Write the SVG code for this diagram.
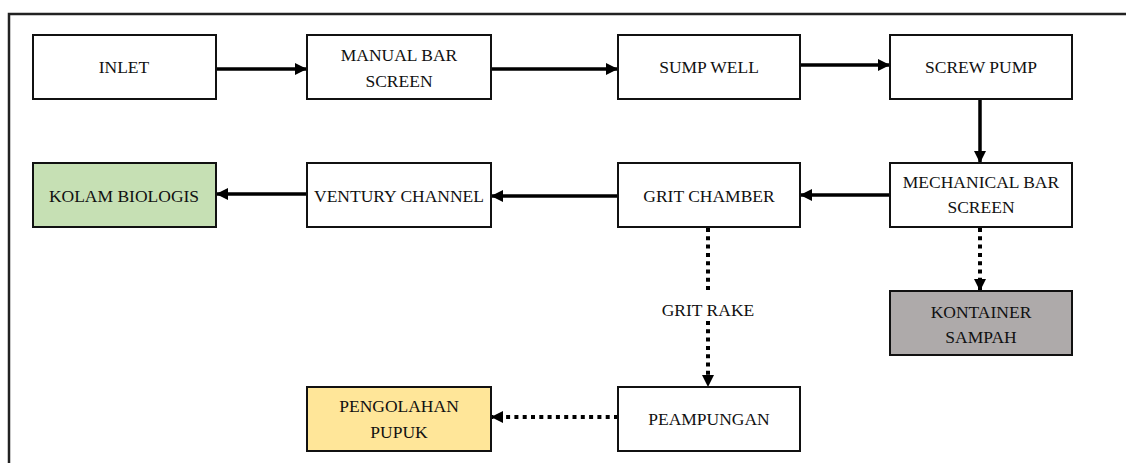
<svg xmlns="http://www.w3.org/2000/svg" width="1126" height="463" viewBox="0 0 1126 463">
<style>
.box{stroke:#111;stroke-width:2;fill:#fff}
.t{font-family:'Liberation Serif','Times New Roman','DejaVu Serif',serif;font-size:17.5px;fill:#111;text-anchor:middle}
.c{stroke:#000;stroke-width:3.5;fill:none}
.d{stroke:#000;stroke-width:4;fill:none;stroke-dasharray:4 4.3}
</style>
<defs>
<marker id="ah" markerUnits="userSpaceOnUse" markerWidth="12" markerHeight="12" refX="12" refY="6" orient="auto">
<path d="M0,0 L12,6 L0,12 Z" fill="#000"/>
</marker>
</defs>
<rect width="1126" height="463" fill="#fff"/>
<path d="M9 463 V14 H1126" fill="none" stroke="#222" stroke-width="2.5"/>
<g id="connectors">
<line class="c" x1="216" y1="69" x2="307" y2="69" marker-end="url(#ah)"/>
<line class="c" x1="491" y1="69" x2="618" y2="69" marker-end="url(#ah)"/>
<line class="c" x1="800" y1="65" x2="890" y2="65" marker-end="url(#ah)"/>
<line class="c" x1="980" y1="99" x2="980" y2="163" marker-end="url(#ah)"/>
<line class="c" x1="890" y1="195" x2="800" y2="195" marker-end="url(#ah)"/>
<line class="c" x1="618" y1="196" x2="491" y2="196" marker-end="url(#ah)"/>
<line class="c" x1="307" y1="194" x2="216" y2="194" marker-end="url(#ah)"/>
<line class="d" x1="708" y1="228" x2="708" y2="291"/>
<line class="d" x1="708" y1="321" x2="708" y2="387" marker-end="url(#ah)"/>
<line class="d" x1="980" y1="228" x2="980" y2="291" marker-end="url(#ah)"/>
<line class="d" x1="618" y1="417" x2="491" y2="417" marker-end="url(#ah)"/>
<text class="t" x="708" y="316">GRIT RAKE</text>
</g>
<g id="inlet"><rect class="box" x="33" y="35" width="183" height="64"/><text class="t" x="124" y="73">INLET</text></g>
<g id="manual-bar-screen"><rect class="box" x="307" y="35" width="184" height="64"/><text class="t" x="399" y="61">MANUAL BAR</text><text class="t" x="399" y="87">SCREEN</text></g>
<g id="sump-well"><rect class="box" x="618" y="35" width="182" height="64"/><text class="t" x="709" y="73">SUMP WELL</text></g>
<g id="screw-pump"><rect class="box" x="890" y="35" width="182" height="64"/><text class="t" x="981" y="73">SCREW PUMP</text></g>
<g id="kolam-biologis"><rect class="box" x="33" y="163" width="183" height="64" style="fill:#c6e0b4"/><text class="t" x="124" y="202">KOLAM BIOLOGIS</text></g>
<g id="ventury-channel"><rect class="box" x="307" y="163" width="184" height="64"/><text class="t" x="399" y="202">VENTURY CHANNEL</text></g>
<g id="grit-chamber"><rect class="box" x="618" y="163" width="182" height="64"/><text class="t" x="709" y="202">GRIT CHAMBER</text></g>
<g id="mechanical-bar-screen"><rect class="box" x="890" y="163" width="182" height="64"/><text class="t" x="981" y="188">MECHANICAL BAR</text><text class="t" x="981" y="213">SCREEN</text></g>
<g id="kontainer-sampah"><rect class="box" x="890" y="291" width="182" height="64" style="fill:#aeaaaa"/><text class="t" x="981" y="318">KONTAINER</text><text class="t" x="981" y="343">SAMPAH</text></g>
<g id="peampungan"><rect class="box" x="618" y="387" width="182" height="64"/><text class="t" x="709" y="425">PEAMPUNGAN</text></g>
<g id="pengolahan-pupuk"><rect class="box" x="307" y="387" width="184" height="64" style="fill:#ffe699"/><text class="t" x="399" y="412">PENGOLAHAN</text><text class="t" x="399" y="438">PUPUK</text></g>
</svg>
